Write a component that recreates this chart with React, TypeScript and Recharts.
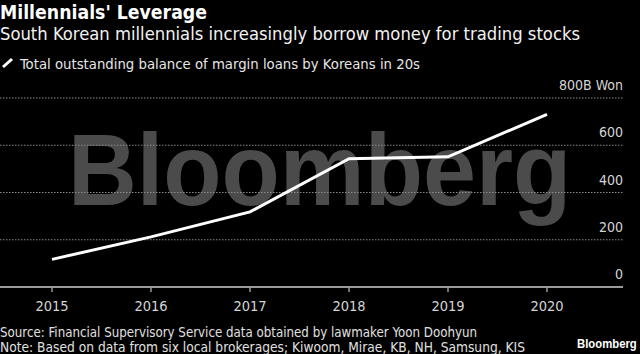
import React from 'react';
import { LineChart, Line, XAxis, YAxis, CartesianGrid } from 'recharts';

const years = ['2015', '2016', '2017', '2018', '2019', '2020'];
const balances = [117, 212, 318, 543, 551, 731];
const yTicks = [0, 200, 400, 600, 800];
const yTickLabels = ['0', '200', '400', '600', '800B Won'];

const data = years.map((y, i) => ({ year: y, value: balances[i] }));

const FONT = "'Liberation Sans Narrow', 'DejaVu Sans Condensed', 'Liberation Sans', sans-serif";

const YTick = (props: any) => {
  const { x, y, payload } = props;
  const idx = yTicks.indexOf(payload.value);
  return (
    <text x={x} y={y - 8} textAnchor="end" fill="#d4d4d4" fontSize={14} fontFamily={FONT}>
      {yTickLabels[idx]}
    </text>
  );
};

export default function App() {
  return (
    <div style={{ position: 'absolute', left: 0, top: 0, width: 640, height: 354, background: '#000', overflow: 'hidden' }}>
      <style>{'body{margin:0;background:#000}'}</style>
      <svg width={640} height={354} style={{ position: 'absolute', left: 0, top: 0 }}>
        <g transform="translate(68,205) scale(0.935,1)">
          <text x={0} y={0} fontSize={102} fontWeight="bold" fill="#4b4b4b"
            fontFamily="'Liberation Sans', Arial, sans-serif">
            Bloomberg
          </text>
        </g>
      </svg>
      <div style={{ position: 'absolute', left: 0, top: 0 }}>
        <LineChart width={640} height={354} data={data} margin={{ top: 98, right: 17, bottom: 37, left: 0 }}>
          <CartesianGrid vertical={false} stroke="#8a8a8a" strokeDasharray="1.5 1.5" />
          <XAxis dataKey="year" padding={{ left: 52, right: 76 }} height={30}
            axisLine={{ stroke: '#9a9a9a', strokeWidth: 2 }}
            tickLine={{ stroke: '#9a9a9a', strokeWidth: 1.5 }}
            tickSize={5} tickMargin={9}
            tick={{ fill: '#d4d4d4', fontSize: 14.5, fontFamily: FONT }} />
          <YAxis orientation="right" mirror width={17} domain={[0, 800]} ticks={yTicks}
            axisLine={false} tickLine={false} tickSize={0} tickMargin={0}
            tick={<YTick />} interval={0} />
          <Line type="linear" dataKey="value" stroke="#ffffff" strokeWidth={3} dot={false} isAnimationActive={false} />
        </LineChart>
      </div>
      <svg width={640} height={354} style={{ position: 'absolute', left: 0, top: 0, pointerEvents: 'none' }}>
        <text x={0} y={19} fontSize={19} fontWeight="bold" fill="#ffffff" fontFamily={FONT} textLength={207} lengthAdjust="spacingAndGlyphs">
          Millennials' Leverage
        </text>
        <text x={0} y={40} fontSize={17} fill="#f2f2f2" fontFamily={FONT} textLength={580} lengthAdjust="spacingAndGlyphs">
          South Korean millennials increasingly borrow money for trading stocks
        </text>
        <line x1={3} y1={67} x2={12} y2={59} stroke="#ffffff" strokeWidth={3} />
        <text x={20} y={69} fontSize={14} fill="#e6e6e6" fontFamily={FONT} textLength={400} lengthAdjust="spacingAndGlyphs">
          Total outstanding balance of margin loans by Koreans in 20s
        </text>
        <text x={0} y={337} fontSize={13.5} fill="#e0e0e0" fontFamily={FONT} textLength={477} lengthAdjust="spacingAndGlyphs">
          Source: Financial Supervisory Service data obtained by lawmaker Yoon Doohyun
        </text>
        <text x={0} y={352} fontSize={13.5} fill="#e0e0e0" fontFamily={FONT} textLength={525} lengthAdjust="spacingAndGlyphs">
          Note: Based on data from six local brokerages; Kiwoom, Mirae, KB, NH, Samsung, KIS
        </text>
        <g transform="translate(577,348) scale(0.84,1)">
          <text x={0} y={0} fontSize={13.5} fontWeight="bold" fill="#ffffff" fontFamily="'Liberation Sans', Arial, sans-serif">
            Bloomberg
          </text>
        </g>
      </svg>
    </div>
  );
}
